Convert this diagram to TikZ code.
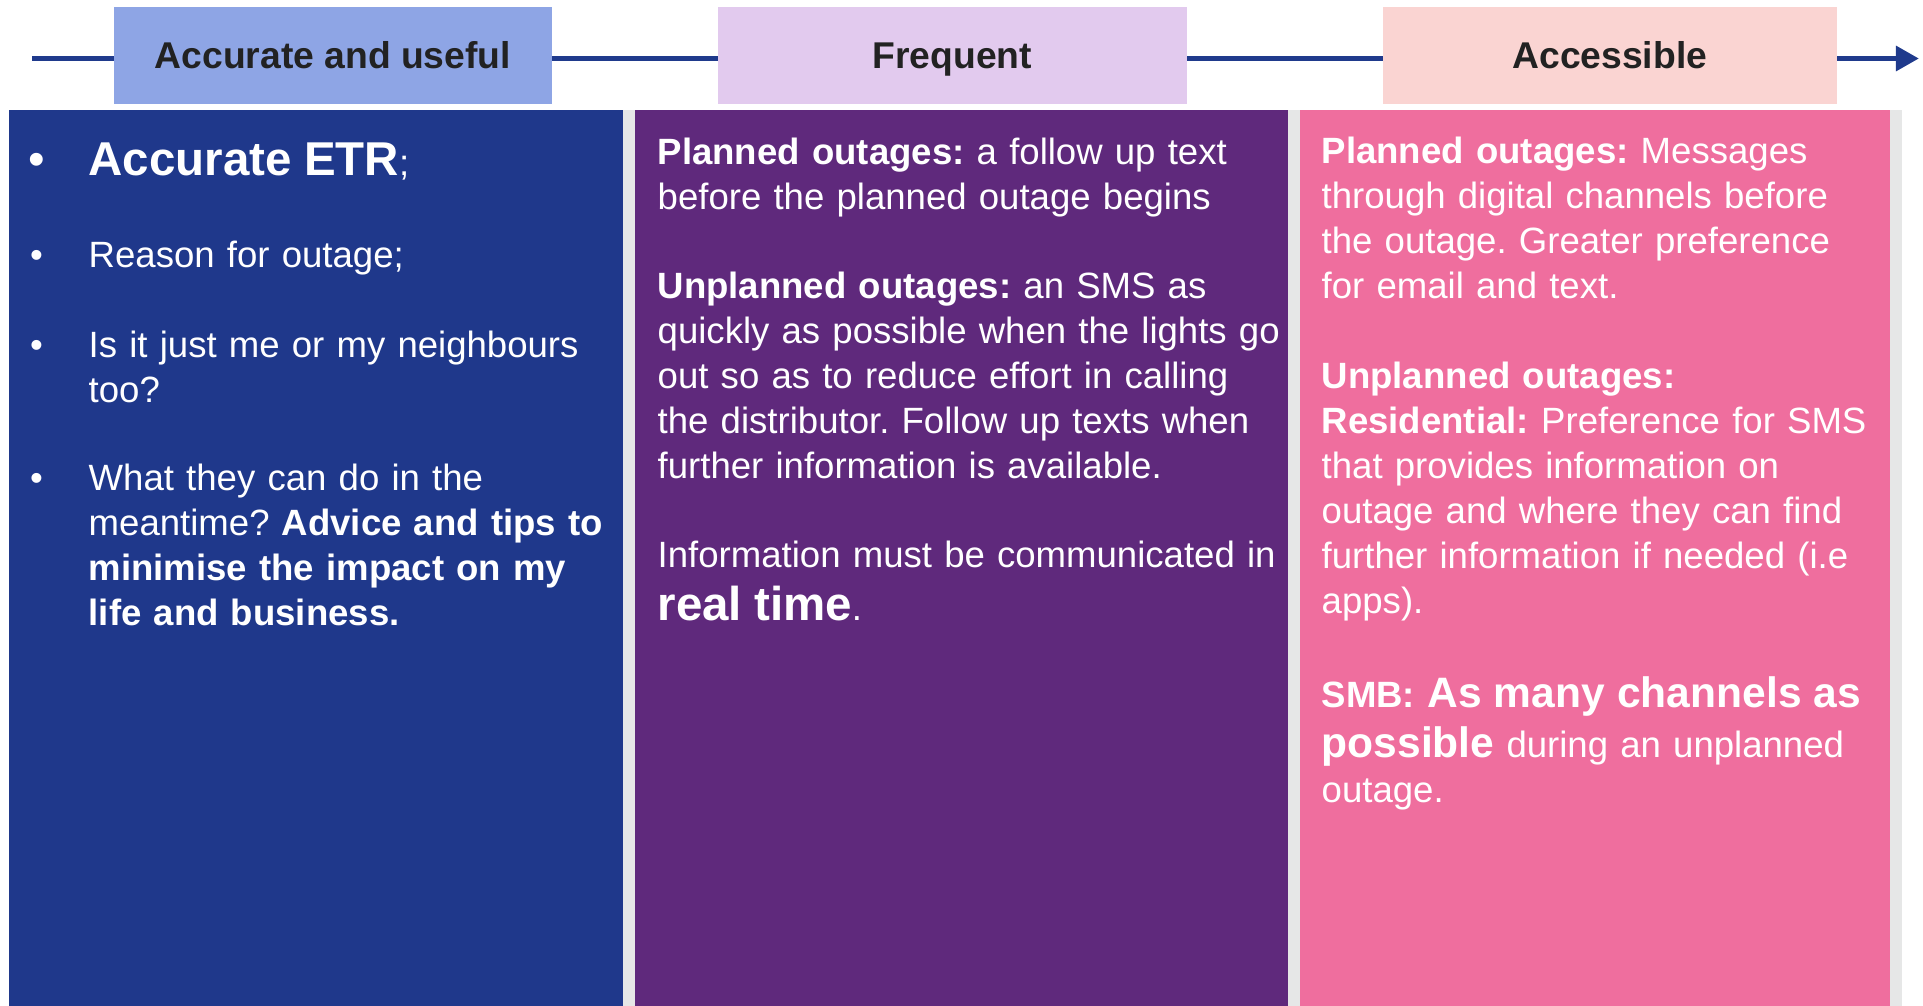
\documentclass[tikz,border=0pt]{standalone}
\usepackage{fontspec}
\setmainfont{Liberation Sans}
\usetikzlibrary{arrows.meta,positioning}

\definecolor{accblue}{HTML}{1F388B}
\definecolor{freqpurple}{HTML}{5F297C}
\definecolor{accpink}{HTML}{EF6E9E}
\definecolor{gapgray}{HTML}{E6E7E7}
\definecolor{hdrblue}{HTML}{8EA5E5}
\definecolor{hdrlilac}{HTML}{E2CAEE}
\definecolor{hdrrose}{HTML}{FAD4D2}
\definecolor{linkblue}{HTML}{1F3A8C}
\definecolor{hdrtext}{HTML}{222222}

\frenchspacing
\newcommand{\hdrfont}{\fontsize{10.6pt}{12.8pt}\selectfont}
\newcommand{\colfont}{\fontsize{10.4pt}{12.8pt}\selectfont}
\newcommand{\bigbold}[1]{{\fontsize{13.5pt}{12.8pt}\selectfont\bfseries #1}}
\newcommand{\midbold}[1]{{\fontsize{12.1pt}{12.8pt}\selectfont\bfseries #1}}

\begin{document}
\begin{tikzpicture}[x=0.01cm,y=-0.01cm,
    header/.style={fill=#1, minimum height=0.97cm, inner sep=0pt, anchor=north west,
        text height=0.27cm, text depth=0pt, text=hdrtext, font=\hdrfont\bfseries},
    bodytext/.style={anchor=base west, inner sep=0pt, text=white, align=left,
        text width=7cm, font=\colfont},
    bulletmark/.style={anchor=base west, inner sep=0pt, text=white, font=\colfont},
    timeline/.style={draw=linkblue, line width=1.7pt}]
    \useasboundingbox (0,0) rectangle (1923,1006);

    % Columns
    \fill[gapgray] (623,110) rectangle (1902,1006);
    \fill[accblue] (9,110) rectangle (623,1006);
    \fill[freqpurple] (635,110) rectangle (1288,1006);
    \fill[accpink] (1300,110) rectangle (1890,1006);

    % Timeline
    \coordinate (lstart) at (32,58.5);
    \coordinate (ltip) at (1919,58.5);
    \draw[timeline,-{Triangle[length=0.23cm,width=0.24cm]}] (lstart) -- (ltip);

    % Headers
    \node[header=hdrblue, minimum width=4.38cm] (hacc) at (113,6) {Accurate and useful};
    \node[header=hdrlilac, minimum width=4.69cm] (hfreq) at (717,6) {Frequent};
    \node[header=hdrrose, minimum width=4.54cm] (hreach) at (1382,6) {Accessible};

    % Accurate and useful
    \node[bulletmark] (b1) at (28,175) {\fontsize{13.5pt}{12.8pt}\selectfont\textbullet};
    \node[bodytext] (etr) at (88,175) {\bigbold{Accurate ETR};};
    \node[bulletmark] (b2) at (29.5,267) {\textbullet};
    \node[bodytext] (reason) at (88,267) {Reason for outage;};
    \node[bulletmark] (b3) at (29.5,357) {\textbullet};
    \node[bodytext] (nbrs) at (88,357) {Is it just me or my neighbours\\too?};
    \node[bulletmark] (b4) at (29.5,490) {\textbullet};
    \node[bodytext] (meantime) at (88,490) {What they can do in the\\meantime? \textbf{Advice and tips to}\\\textbf{minimise the impact on my}\\\textbf{life and business.}};

    % Frequent
    \node[bodytext] (fplanned) at (657,164) {\textbf{Planned outages:} a follow up text\\before the planned outage begins};
    \node[bodytext] (funplanned) at (657,298) {\textbf{Unplanned outages:} an SMS as\\quickly as possible when the lights go\\out so as to reduce effort in calling\\the distributor. Follow up texts when\\further information is available.};
    \node[bodytext] (frealtime) at (657,567) {Information must be communicated in\\[2.3pt]\bigbold{real time}.};

    % Accessible
    \node[bodytext] (aplanned) at (1321,163) {\textbf{Planned outages:} Messages\\through digital channels before\\the outage. Greater preference\\for email and text.};
    \node[bodytext] (aunplanned) at (1321,388) {\textbf{Unplanned outages:}\\\textbf{Residential:} Preference for SMS\\that provides information on\\outage and where they can find\\further information if needed (i.e\\apps).};
    \node[bodytext] (asmb) at (1321,707) {\textbf{SMB:} \midbold{As many channels as}\\[1.6pt]\midbold{possible} during an unplanned\\outage.};
\end{tikzpicture}
\end{document}
